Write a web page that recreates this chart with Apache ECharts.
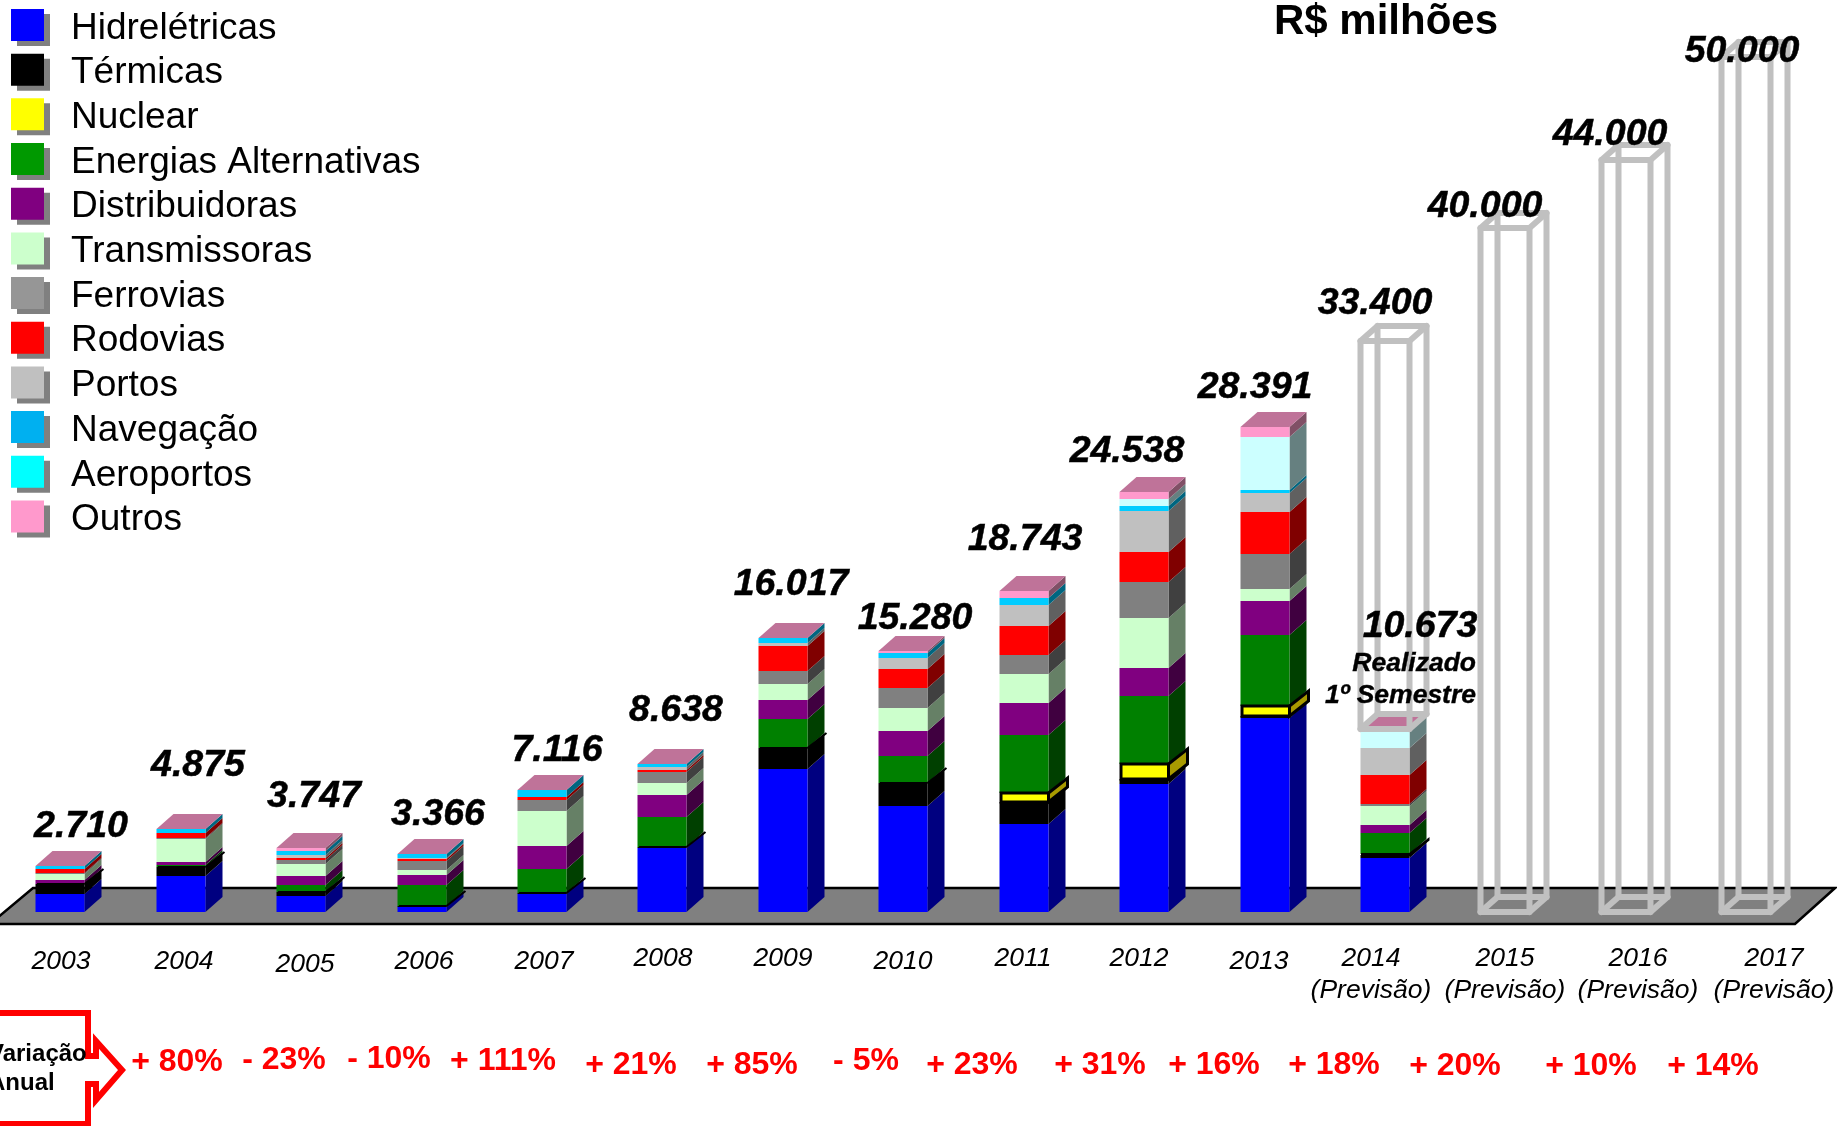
<!DOCTYPE html>
<html>
<head>
<meta charset="utf-8">
<title>R$ milhões</title>
<script src="https://cdn.jsdelivr.net/npm/echarts@6/dist/echarts.min.js"></script>
<style>
  html, body { margin: 0; padding: 0; background: #fff; }
  #chart { width: 1837px; height: 1126px; }
</style>
</head>
<body>
<div id="chart"></div>
<script>
const years = ['2003', '2004', '2005', '2006', '2007', '2008', '2009', '2010', '2011', '2012', '2013', '2014', '2015', '2016', '2017']

// 2003 -> 2014 (1o semestre)
const hidreletricas = [1033, 2100, 960, 273, 1072, 3724, 8371, 6191, 5129, 7483, 11337, 3150]
const termicas = [600, 510, 200, 80, 40, 80, 1210, 1330, 1307, 272, 146, 210]
const nuclear = [30, 17, 14, 17, 18, 18, 19, 16, 546, 878, 564, 20]
const alternativas = [0, 98, 390, 1223, 1365, 1755, 1697, 1580, 3354, 3992, 4180, 1212]
const distribuidoras = [195, 175, 546, 546, 1345, 1287, 1112, 1463, 1872, 1651, 1986, 502]
const transmissoras = [390, 1347, 702, 292, 2048, 702, 936, 1346, 1697, 2926, 648, 1108]
const ferrovias = [30, 78, 234, 526, 643, 643, 760, 1170, 1112, 2111, 2048, 125]
const rodovias = [250, 300, 136, 136, 195, 117, 1463, 1112, 1697, 1735, 2508, 1693]
const portos = [0, 0, 156, 78, 0, 175, 156, 643, 1229, 2403, 1066, 1566]
const navegacao = [182, 250, 253, 195, 390, 137, 293, 312, 410, 272, 167, 0]
const aeroportos = [0, 0, 0, 0, 0, 0, 0, 0, 0, 439, 3156, 982]
const outros = [0, 0, 156, 0, 0, 0, 0, 117, 390, 376, 585, 105]

const seriesNames = ['Hidrelétricas', 'Térmicas', 'Nuclear', 'Energias Alternativas', 'Distribuidoras', 'Transmissoras', 'Ferrovias', 'Rodovias', 'Portos', 'Navegação', 'Aeroportos', 'Outros']
const seriesValues = [hidreletricas, termicas, nuclear, alternativas, distribuidoras, transmissoras, ferrovias, rodovias, portos, navegacao, aeroportos, outros]

const frontColors = ['#0000ff', '#000000', '#ffff00', '#008000', '#800080', '#ccffcc', '#808080', '#ff0000', '#c0c0c0', '#00ccff', '#ccffff', '#ff99cc']
const sideColors = ['#000080', '#000000', '#a89a00', '#004000', '#400040', '#668066', '#404040', '#800000', '#606060', '#006680', '#668080', '#805066']
const legendColors = ['#0000ff', '#000000', '#ffff00', '#009900', '#800080', '#ccffcc', '#969696', '#ff0000', '#c0c0c0', '#00b0f0', '#00ffff', '#ff99cc']

// forecast boxes: [from, to]
const previsaoDe = [10673, 0, 0, 0]
const previsaoAte = [33400, 40000, 44000, 50000]

const totalLabels = ['2.710', '4.875', '3.747', '3.366', '7.116', '8.638', '16.017', '15.280', '18.743', '24.538', '28.391', '33.400', '40.000', '44.000', '50.000']
const variacao = ['+ 80%', '- 23%', '- 10%', '+ 111%', '+ 21%', '+ 85%', '- 5%', '+ 23%', '+ 31%', '+ 16%', '+ 18%', '+ 20%', '+ 10%', '+ 14%']

// where the texts sit on the slide
const totalX = [81, 198, 314, 438, 557, 676, 791, 915, 1025, 1127, 1255, 1375, 1485, 1610, 1742]
const totalY = [827, 766, 797, 815, 751, 711, 585, 619, 540, 452, 388, 304, 207, 135, 52]
const yearX = [61, 184, 305, 424, 544, 663, 783, 903, 1023, 1139, 1259, 1371, 1505, 1638, 1774]
const yearY = [962, 962, 965, 962, 962, 959, 959, 962, 959, 959, 962, 959, 959, 959, 959]
const variacaoX = [177, 284, 389, 503, 631, 752, 866, 972, 1100, 1214, 1334, 1455, 1591, 1713]
const variacaoY = [1062, 1060, 1059, 1061, 1065, 1065, 1061, 1065, 1065, 1065, 1065, 1066, 1066, 1066]

const FONT = '"Liberation Sans", Arial, sans-serif'
const DX = 17, DY = 15, BAR_W = 49

function segmentItem(idx) {
  return function (params, api) {
    const i = api.value(0)
    const xc = Math.round(api.coord([i, 0])[0])
    const yb = Math.round(api.coord([i, api.value(1)])[1])
    const yt = Math.round(api.coord([i, api.value(2)])[1])
    const x1 = xc - BAR_W / 2, x2 = xc + BAR_W / 2
    const children = []
    if (idx === 2) {
      // nuclear has a black outline that pokes out of the bar
      const thin = yb - yt < 3
      const lw = thin ? 2 : 3
      const st = { stroke: '#000', lineWidth: lw, lineJoin: 'miter' }
      children.push({ type: 'polygon', shape: { points: [[x2, yb], [x2 + DX + 2, yb - DY], [x2 + DX + 2, yt - DY], [x2, yt]] }, style: Object.assign({ fill: sideColors[idx] }, st) })
      children.push({ type: 'polygon', shape: { points: [[x1 + 1.5, yb], [x2, yb], [x2, yt], [x1 + 1.5, yt]] }, style: Object.assign({ fill: frontColors[idx] }, st) })
      return { type: 'group', children: children }
    }
    if (yb !== yt) {
      children.push({ type: 'polygon', shape: { points: [[x2, yb], [x2 + DX, yb - DY], [x2 + DX, yt - DY], [x2, yt]] }, style: { fill: sideColors[idx] } })
      children.push({ type: 'rect', shape: { x: x1, y: yt, width: BAR_W, height: yb - yt }, style: { fill: frontColors[idx] } })
    }
    if (idx === seriesNames.length - 1) {
      // mauve lid of the stack
      children.push({ type: 'polygon', shape: { points: [[x1, yt], [x1 + DX, yt - DY], [x2 + DX, yt - DY], [x2, yt]] }, style: { fill: '#bf7399' } })
    }
    return { type: 'group', children: children }
  }
}

function wireItem(params, api) {
  const i = api.value(0)
  const xc = Math.round(api.coord([i, 0])[0])
  const yb = Math.round(api.coord([i, api.value(1)])[1])
  const yt = Math.round(api.coord([i, api.value(2)])[1])
  const x1 = xc - BAR_W / 2, x2 = xc + BAR_W / 2
  const st = { fill: null, stroke: '#c0c0c0', lineWidth: 6, lineJoin: 'round', lineCap: 'round' }
  const line = function (pts) { return { type: 'polyline', shape: { points: pts }, style: st } }
  return {
    type: 'group',
    children: [
      line([[x1 + DX, yb - DY], [x2 + DX, yb - DY], [x2 + DX, yt - DY], [x1 + DX, yt - DY], [x1 + DX, yb - DY]]),
      line([[x1, yb], [x1 + DX, yb - DY]]),
      line([[x2, yb], [x2 + DX, yb - DY]]),
      line([[x1, yt], [x1 + DX, yt - DY]]),
      line([[x2, yt], [x2 + DX, yt - DY]]),
      line([[x1, yb], [x2, yb], [x2, yt], [x1, yt], [x1, yb]])
    ]
  }
}

// cumulative stack, one custom series per sector
const running = years.map(function () { return 0 })
const series = seriesNames.map(function (name, idx) {
  const data = seriesValues[idx].map(function (v, i) {
    const lo = running[i]
    running[i] = lo + v
    return [i, lo, lo + v]
  })
  return {
    name: name,
    type: 'custom',
    z: idx === 2 ? 3 : 2,
    itemStyle: { color: legendColors[idx] },
    encode: { x: 0, y: [1, 2] },
    renderItem: segmentItem(idx),
    data: data,
    animation: false
  }
})
series.push({
  name: 'Previsão',
  type: 'custom',
  z: 4,
  encode: { x: 0, y: [1, 2] },
  renderItem: wireItem,
  data: previsaoAte.map(function (v, k) { return [11 + k, previsaoDe[k], v] }),
  animation: false
})

function txt(text, x, y, font, fill, align, heavy) {
  const style = { text: text, x: x, y: y, font: font, fill: fill || '#000', textAlign: align || 'center', textVerticalAlign: 'middle' }
  if (heavy) {
    style.stroke = fill || '#000'
    style.lineWidth = heavy
  }
  return { type: 'text', z: 100, style: style }
}

const graphics = [
  // grey floor
  { type: 'polygon', z: 0, shape: { points: [[-10, 924], [1795, 924], [1835, 888], [33, 888]] }, style: { fill: '#808080', stroke: '#000', lineWidth: 2.5 } },
  // Variacao Anual arrow box
  { type: 'polygon', z: 1, shape: { points: [[-10, 1013], [88, 1013], [88, 1056], [96, 1056], [96, 1041], [122, 1070], [96, 1100], [96, 1084], [88, 1084], [88, 1124], [-10, 1124]] }, style: { fill: '#fff', stroke: '#ff0000', lineWidth: 6 } },
  txt('Variação', -12, 1054, 'bold 24px ' + FONT, '#000', 'left'),
  txt('Anual', -12, 1083, 'bold 24px ' + FONT, '#000', 'left'),
  txt('R$ milhões', 1386, 22, 'bold 42px ' + FONT),
  txt('10.673', 1420, 627, 'italic bold 37.5px ' + FONT, '#000', 'center', 0.5),
  txt('Realizado', 1476, 664, 'italic bold 26.5px ' + FONT, '#000', 'right', 0.4),
  txt('1º Semestre', 1476, 696, 'italic bold 26.5px ' + FONT, '#000', 'right', 0.4)
]
totalLabels.forEach(function (t, i) {
  graphics.push(txt(t, totalX[i], totalY[i], 'italic bold 37.5px ' + FONT, '#000', 'center', 0.5))
})
years.forEach(function (y, i) {
  graphics.push(txt(y, yearX[i], yearY[i], 'italic 26.5px ' + FONT))
  if (i >= 11) graphics.push(txt('(Previsão)', yearX[i], yearY[i] + 32, 'italic 26.5px ' + FONT))
})
variacao.forEach(function (t, i) {
  graphics.push(txt(t, variacaoX[i], variacaoY[i], 'bold 32px ' + FONT, '#ff0000'))
})

const chart = echarts.init(document.getElementById('chart'))
chart.setOption({
  animation: false,
  backgroundColor: '#fff',
  grid: { left: -1, right: 30.5, top: 57, bottom: 214 },
  xAxis: { type: 'category', data: years, show: false },
  yAxis: { type: 'value', min: 0, max: 50000, show: false, splitLine: { show: false } },
  legend: {
    left: 11,
    top: 3,
    padding: 0,
    orient: 'vertical',
    align: 'left',
    selectedMode: false,
    icon: 'rect',
    itemWidth: 33,
    itemHeight: 32,
    itemGap: 0.68,
    itemStyle: { shadowBlur: 0, shadowOffsetX: 6, shadowOffsetY: 5, shadowColor: '#808080' },
    formatter: function (name) { return '{t|' + name + '}' },
    textStyle: {
      rich: { t: { fontFamily: FONT, fontSize: 37, color: '#000', lineHeight: 34, padding: [7, 0, 0, 22] } }
    },
    data: seriesNames.map(function (n, i) { return { name: n, itemStyle: { color: legendColors[i] } } })
  },
  graphic: { elements: graphics },
  series: series
})
</script>
</body>
</html>
